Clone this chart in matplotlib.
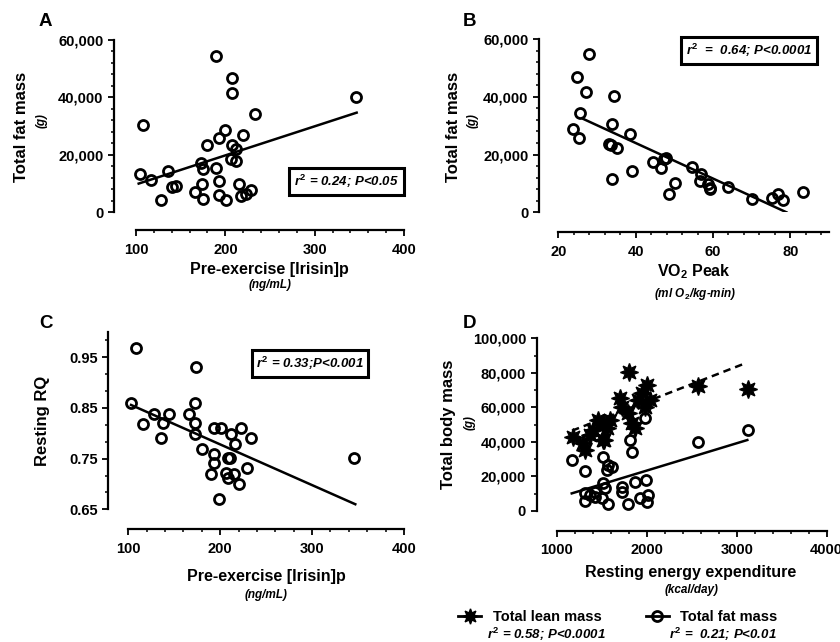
import matplotlib
matplotlib.use("Agg")
import matplotlib.pyplot as plt
import numpy as np
from matplotlib.ticker import MultipleLocator, FixedLocator, FuncFormatter
from matplotlib.lines import Line2D

plt.rcParams['font.family'] = ['Liberation Sans', 'DejaVu Sans']
plt.rcParams['font.weight'] = 'bold'
plt.rcParams['mathtext.fontset'] = 'custom'
plt.rcParams['mathtext.rm'] = 'Liberation Sans:bold'
plt.rcParams['mathtext.it'] = 'Liberation Sans:bold:italic'
plt.rcParams['mathtext.bf'] = 'Liberation Sans:bold'

# Panel A: irisin vs fat mass
a_irisin = [104, 108, 117, 128, 136, 140, 145, 166, 173, 175, 174, 175, 180, 190, 189,
            193, 193, 193, 200, 201, 207, 207, 207, 212, 206, 212, 220, 215, 217, 223,
            229, 233, 346]
a_fat = [13200, 30500, 11300, 4300, 14300, 8700, 9000, 7000, 17200, 15200, 10000, 4500,
         23400, 54400, 15600, 25700, 10900, 5900, 28800, 4200, 46600, 41400, 23400, 22200,
         18400, 17800, 26900, 9800, 5700, 6500, 7900, 34200, 40200]
a_fit_x = [103, 347]
a_fit_y = [10000, 34700]

# Panel B: VO2 peak vs fat mass
b_vo2 = [23.9, 25.3, 24.8, 25.6, 27.2, 27.9, 33.8, 33.1, 33.7, 35.1, 34.0, 34.5, 38.5,
         39.0, 44.4, 46.5, 47.4, 47.8, 48.7, 50.2, 54.7, 56.8, 56.6, 58.8, 59.2, 59.1,
         63.8, 70.1, 75.3, 76.7, 78.1, 83.2]
b_fat = [28700, 25600, 46900, 34300, 41500, 54700, 30600, 23500, 23300, 22200, 11500,
         40400, 27000, 14300, 17500, 15400, 18300, 18900, 6200, 10000, 15800, 13300,
         10900, 9800, 8300, 8000, 8900, 4600, 4800, 6200, 4300, 7100]
b_fit_x = [26.5, 79]
b_fit_y = [32300, 0]

# Panel C: irisin vs resting RQ
c_irisin = [103, 108, 116, 128, 138, 136, 144, 166, 173, 174, 173, 173, 180, 193, 201,
            193, 193, 190, 199, 208, 211, 206, 208, 212, 216, 215, 223, 221, 229, 234, 346]
c_rq = [0.860, 0.969, 0.818, 0.839, 0.820, 0.790, 0.839, 0.839, 0.860, 0.930, 0.820,
        0.799, 0.770, 0.810, 0.810, 0.760, 0.741, 0.719, 0.670, 0.751, 0.751, 0.721,
        0.711, 0.799, 0.779, 0.719, 0.810, 0.700, 0.731, 0.790, 0.751]
c_fit_x = [103, 347]
c_fit_y = [0.856, 0.660]

# Panel D: resting energy expenditure vs lean / fat mass
d_lean_ree = [1178, 1296, 1315, 1370, 1407, 1463, 1518, 1556, 1593, 1518, 1526, 1704,
              1722, 1796, 1833, 1870, 1907, 1944, 2007, 2037, 1981, 1803, 2574, 3130]
d_lean = [43000, 39200, 35300, 44000, 46900, 52700, 50800, 47900, 52700, 41100, 41100,
          65300, 60400, 56600, 50800, 47900, 64300, 68200, 73000, 64300, 60400, 80700,
          72400, 70500]
d_fat_ree = [1167, 1315, 1518, 1574, 1556, 1611, 1815, 1833, 1981, 1315, 1370, 1426,
             1315, 1426, 1518, 1537, 1500, 1574, 1722, 1722, 1796, 1870, 1926, 1992,
             2018, 2007, 2574, 3130]
d_fat = [29500, 23300, 31100, 26600, 23700, 25300, 41100, 34300, 53700, 10200, 9300,
         11200, 6000, 7900, 16000, 13100, 7400, 4100, 14100, 11200, 4100, 17000, 7400,
         18000, 9300, 5400, 40100, 46900]
d_lean_fit_x = [1170, 3074]
d_lean_fit_y = [46500, 85100]
d_fat_fit_x = [1167, 3118]
d_fat_fit_y = [10200, 41100]

W, H = 840, 642
fig = plt.figure(figsize=(W / 100, H / 100), dpi=100)


def add_ax(l, t, r, b):
    return fig.add_axes([l / W, 1 - b / H, (r - l) / W, (b - t) / H])


def ftext(x, y, s, **kw):
    fig.text(x / W, 1 - y / H, s, ha='center', va='center', **kw)


def style(ax, xlim, ylim, out_l, out_b):
    ax.set_xlim(xlim)
    ax.set_ylim(ylim)
    ax.patch.set_visible(False)
    for s in ['top', 'right']:
        ax.spines[s].set_visible(False)
    ax.spines['left'].set_position(('outward', out_l * 0.72))
    ax.spines['bottom'].set_position(('outward', out_b * 0.72))
    for s in ['left', 'bottom']:
        ax.spines[s].set_linewidth(1.6)
    ax.tick_params(which='major', direction='out', length=4.5, width=1.3, labelsize=10.5, pad=3.2)
    ax.tick_params(which='minor', direction='out', length=2.5, width=1.1)
    ax.tick_params(axis='x', which='major', pad=4.5)


comma = FuncFormatter(lambda v, p: '{:,.0f}'.format(v))
circ = dict(marker='o', ms=7.2, mfc='none', mec='black', mew=2.0, ls='none', clip_on=False, zorder=3)
box = dict(boxstyle='square,pad=0.35', fc='white', ec='black', lw=2.2)
fit = dict(color='black', lw=1.8, zorder=1.5)

# ---- A ----
ax = add_ax(136, 40, 404, 212.3)
style(ax, (100, 400), (0, 60000), 21.7, 17.7)
ax.plot(a_irisin, a_fat, **circ)
ax.plot(a_fit_x, a_fit_y, **fit)
ax.xaxis.set_major_locator(MultipleLocator(100))
ax.xaxis.set_minor_locator(MultipleLocator(20))
ax.yaxis.set_major_locator(MultipleLocator(20000))
ax.yaxis.set_minor_locator(MultipleLocator(4000))
ax.yaxis.set_major_formatter(comma)
ax.text(346.5 / W, 1 - 181.7 / H, r'$r^2$ = 0.24; P<0.05', transform=fig.transFigure,
        ha='center', va='center', fontsize=9.5, style='italic', bbox=box)
ftext(45, 21, 'A', fontsize=13.5)
ftext(22, 127, 'Total fat mass', fontsize=12, rotation=90)
ftext(41.5, 121, '(g)', fontsize=8.5, rotation=90, style='italic')
ftext(269, 270, 'Pre-exercise [Irisin]p', fontsize=11.5)
ftext(270, 285, '(ng/mL)', fontsize=8.5, style='italic')

# ---- B ----
ax = add_ax(558.3, 39, 829, 212.3)
style(ax, (20, 90), (0, 60000), 19.3, 19.7)
ax.plot(b_vo2, b_fat, **circ)
ax.plot(b_fit_x, b_fit_y, **fit)
ax.xaxis.set_major_locator(MultipleLocator(20))
ax.xaxis.set_minor_locator(MultipleLocator(4))
ax.yaxis.set_major_locator(MultipleLocator(20000))
ax.yaxis.set_minor_locator(MultipleLocator(4000))
ax.yaxis.set_major_formatter(comma)
ax.text(749 / W, 1 - 50.5 / H, r'$r^2$  =  0.64; P<0.0001', transform=fig.transFigure,
        ha='center', va='center', fontsize=9.5, style='italic', bbox=box)
ftext(470, 21, 'B', fontsize=13.5)
ftext(454, 127, 'Total fat mass', fontsize=12, rotation=90)
ftext(473, 121, '(g)', fontsize=8.5, rotation=90, style='italic')
ftext(694, 272, r'VO$_2$ Peak', fontsize=11.5)
ftext(695, 294, r'(ml O$_2$/kg-min)', fontsize=8.5, style='italic')

# ---- C ----
ax = add_ax(128.3, 332, 404, 509.3)
style(ax, (100, 400), (0.65, 1.0), 20, 20)
ax.plot(c_irisin, c_rq, **circ)
ax.plot(c_fit_x, c_fit_y, **fit)
ax.xaxis.set_major_locator(MultipleLocator(100))
ax.xaxis.set_minor_locator(MultipleLocator(20))
ax.yaxis.set_major_locator(FixedLocator([0.65, 0.75, 0.85, 0.95]))
ax.yaxis.set_minor_locator(FixedLocator(np.arange(0.65, 0.999, 0.1 / 3)))
ax.yaxis.set_major_formatter(FuncFormatter(lambda v, p: '{:.2f}'.format(v)))
ax.text(310 / W, 1 - 363.7 / H, r'$r^2$ = 0.33;P<0.001', transform=fig.transFigure,
        ha='center', va='center', fontsize=9.5, style='italic', bbox=box)
ftext(46, 323, 'C', fontsize=13.5)
ftext(42, 421, 'Resting RQ', fontsize=12, rotation=90)
ftext(266, 577, 'Pre-exercise [Irisin]p', fontsize=11.5)
ftext(266, 595, '(ng/mL)', fontsize=8.5, style='italic')

# ---- D ----
ax = add_ax(556.7, 338.3, 826.7, 511)
style(ax, (1000, 4000), (0, 100000), 20, 20)
star = dict(marker=(8, 1, 0), ms=13, mfc='black', mec='black', mew=1.0, ls='none', clip_on=False, zorder=2)
ax.plot(d_lean_ree, d_lean, **star)
ax.plot(d_fat_ree, d_fat, **circ)
ax.plot(d_lean_fit_x, d_lean_fit_y, ls=(0, (3, 2)), **fit)
ax.plot(d_fat_fit_x, d_fat_fit_y, **fit)
ax.xaxis.set_major_locator(MultipleLocator(1000))
ax.xaxis.set_minor_locator(MultipleLocator(200))
ax.yaxis.set_major_locator(MultipleLocator(20000))
ax.yaxis.set_minor_locator(MultipleLocator(10000))
ax.yaxis.set_major_formatter(comma)
ftext(470, 323, 'D', fontsize=13.5)
ftext(449, 424, 'Total body mass', fontsize=12, rotation=90)
ftext(470, 423, '(g)', fontsize=8.5, rotation=90, style='italic')
ftext(690.5, 573, 'Resting energy expenditure', fontsize=11.5)
ftext(692, 590, '(kcal/day)', fontsize=8.5, style='italic')

skip = ('ls', 'clip_on', 'zorder')
star_h = {k: v for k, v in star.items() if k not in skip}
star_h['ms'] = 11
handles = [Line2D([], [], color='black', lw=2.0, **star_h),
           Line2D([], [], color='black', lw=2.0, **{k: v for k, v in circ.items() if k not in skip})]
fig.legend(handles, ['Total lean mass', 'Total fat mass'], loc='center left',
           bbox_to_anchor=(458 / W, 1 - 617 / H), ncol=2, frameon=False, fontsize=10.5,
           handlelength=1.6, handletextpad=0.8, columnspacing=3.0, borderpad=0, borderaxespad=0)
ftext(546, 634, r'$r^2$ = 0.58; P<0.0001', fontsize=9.5, style='italic')
ftext(723, 634, r'$r^2$ =  0.21; P<0.01', fontsize=9.5, style='italic')

fig.savefig('out.png', dpi=100)
plt.close(fig)
